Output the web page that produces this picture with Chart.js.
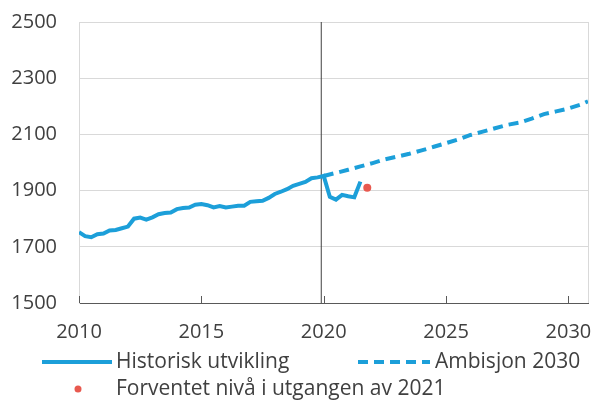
<!DOCTYPE html>
<html>
<head>
<meta charset="utf-8">
<script src="https://cdn.jsdelivr.net/npm/chart.js@4.4.1/dist/chart.umd.min.js"></script>
<style>
  html, body { margin: 0; padding: 0; background: #fff; }
  #wrap { width: 593px; height: 401px; }
</style>
</head>
<body>
<div id="wrap"><canvas id="c" width="593" height="401"></canvas></div>
<script>
// historisk utvikling, kvartalsvis fra 2010K1
const histStart = 2010;
const histValues = [
  1752, 1738, 1734, 1745, 1747, 1758, 1760, 1766,
  1772, 1800, 1804, 1797, 1805, 1816, 1820, 1822,
  1834, 1838, 1840, 1850, 1852, 1848, 1840, 1845,
  1840, 1843, 1846, 1846, 1860, 1862, 1864, 1874,
  1888, 1896, 1905, 1917, 1924, 1931, 1944, 1947,
  1952, 1878, 1868, 1885, 1880, 1876, 1932
];

// ambisjon 2030 (halvårlig)
const ambYears = [2020, 2020.5, 2021, 2021.5, 2022, 2022.5, 2023, 2023.5, 2024, 2024.5,
  2025, 2025.5, 2026, 2026.5, 2027, 2027.5, 2028, 2028.5, 2029, 2029.5, 2030, 2030.5, 2030.8];
const ambValues = [1952, 1963, 1974, 1986, 1998, 2011, 2021, 2031, 2043, 2056,
  2069, 2082, 2098, 2110, 2122, 2134, 2142, 2156, 2172, 2182, 2192, 2206, 2218];

const expectedPoint = { x: 2021.78, y: 1910 };
const markerYear = 2019.9;

const xTicks = [2010, 2015, 2020, 2025, 2030];
const yTicks = [1500, 1700, 1900, 2100, 2300, 2500];

const labels = ['Historisk utvikling', 'Ambisjon 2030', 'Forventet nivå i utgangen av 2021'];

const blue = '#1c9fd9';
const red = '#e8594f';
const textColor = '#404040';
const font = { family: 'Open Sans', size: 20 };
const legendFont = '21px "Open Sans"';

const histData = histValues.map((v, i) => ({ x: histStart + i * 0.25, y: v }));
const ambData = ambValues.map((v, i) => ({ x: ambYears[i], y: v }));

// rammer, innvendige tick-streker og egendefinert legende
const extras = {
  id: 'extras',
  beforeDatasetsDraw(chart) {
    const { ctx, chartArea: a, scales: { x } } = chart;
    ctx.save();
    ctx.strokeStyle = '#d9d9d9';
    ctx.lineWidth = 1;
    ctx.beginPath();
    ctx.moveTo(Math.round(a.right) + 0.5, a.top);
    ctx.lineTo(Math.round(a.right) + 0.5, a.bottom);
    ctx.stroke();
    ctx.strokeStyle = '#595959';
    ctx.beginPath();
    xTicks.forEach(t => {
      const px = Math.round(x.getPixelForValue(t)) + 0.5;
      ctx.moveTo(px, a.bottom);
      ctx.lineTo(px, a.bottom - 7);
    });
    ctx.stroke();
    ctx.restore();
  },
  afterDraw(chart) {
    const { ctx } = chart;
    const ds = chart.data.datasets;
    ctx.save();
    ctx.font = legendFont;
    ctx.fillStyle = textColor;
    ctx.textBaseline = 'middle';
    ctx.lineCap = 'butt';

    // Historisk utvikling
    ctx.strokeStyle = ds[0].borderColor;
    ctx.lineWidth = ds[0].borderWidth;
    ctx.beginPath(); ctx.moveTo(42, 362); ctx.lineTo(112, 362); ctx.stroke();
    ctx.fillText(labels[0], 116, 362);

    // Ambisjon 2030
    ctx.strokeStyle = ds[1].borderColor;
    ctx.lineWidth = ds[1].borderWidth;
    ctx.setLineDash(ds[1].borderDash);
    ctx.beginPath(); ctx.moveTo(358, 362); ctx.lineTo(430, 362); ctx.stroke();
    ctx.setLineDash([]);
    ctx.fillText(labels[1], 435, 362);

    // Forventet nivå
    ctx.fillStyle = ds[2].backgroundColor;
    ctx.beginPath(); ctx.arc(78, 389, 3.5, 0, Math.PI * 2); ctx.fill();
    ctx.fillStyle = textColor;
    ctx.fillText(labels[2], 116, 389);
    ctx.restore();
  }
};

new Chart(document.getElementById('c'), {
  type: 'line',
  data: {
    datasets: [
      {
        label: labels[0],
        data: histData,
        borderColor: blue,
        backgroundColor: blue,
        borderWidth: 4,
        pointRadius: 0,
        tension: 0,
        order: 1
      },
      {
        label: labels[1],
        data: ambData,
        borderColor: blue,
        backgroundColor: blue,
        borderWidth: 4,
        borderDash: [10, 6],
        pointRadius: 0,
        tension: 0,
        order: 2
      },
      {
        label: labels[2],
        data: [expectedPoint],
        showLine: false,
        pointRadius: 4,
        pointBackgroundColor: red,
        pointBorderWidth: 0,
        backgroundColor: red,
        borderColor: red,
        order: 0
      },
      {
        label: 'skille',
        data: [{ x: markerYear, y: 1500 }, { x: markerYear, y: 2500 }],
        borderColor: '#404040',
        borderWidth: 1,
        pointRadius: 0,
        order: 3
      }
    ]
  },
  options: {
    responsive: false,
    animation: false,
    devicePixelRatio: 1,
    layout: { padding: { top: 22, right: 5, bottom: 60, left: 0 } },
    plugins: {
      legend: { display: false },
      tooltip: { enabled: false }
    },
    scales: {
      x: {
        type: 'linear',
        min: 2010,
        max: 2030.8,
        afterBuildTicks: s => { s.ticks = xTicks.map(v => ({ value: v })); },
        afterFit: s => { s.height = 38; s.paddingLeft = 0; s.paddingRight = 0; },
        grid: { display: false, drawTicks: false },
        border: { display: true, color: '#595959', width: 1 },
        ticks: {
          font: font,
          color: textColor,
          padding: 17,
          maxRotation: 0,
          autoSkip: false,
          callback: v => String(v)
        }
      },
      y: {
        min: 1500,
        max: 2500,
        afterBuildTicks: s => { s.ticks = yTicks.map(v => ({ value: v })); },
        afterFit: s => { s.width = 79; s.paddingTop = 0; s.paddingBottom = 0; },
        grid: { color: '#d9d9d9', drawTicks: false },
        border: { display: true, color: '#d9d9d9' },
        ticks: {
          font: font,
          color: textColor,
          padding: 22,
          callback: v => String(v)
        }
      }
    }
  },
  plugins: [extras]
});
</script>
</body>
</html>
